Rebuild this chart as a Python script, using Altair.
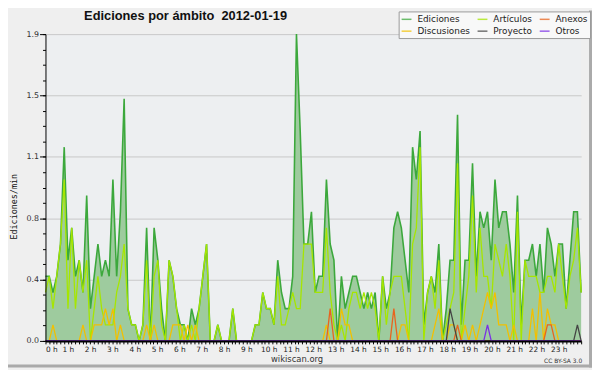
import altair as alt
import pandas as pd

# 10-minute bins, 0h .. 23h50 (edits per minute)
ediciones = [
    0.4, 0.4, 0.3, 0.4, 0.6, 1.2,
    0.5, 0.7, 0.4, 0.5, 0.3, 0.9,
    0.2, 0.4, 0.6, 0.4, 0.5, 0.4,
    1.0, 0.4, 0.8, 1.5, 0.2, 0.1,
    0.1, 0.0, 0.1, 0.7, 0.0, 0.7,
    0.5, 0.2, 0.0, 0.5, 0.4, 0.2,
    0.1, 0.1, 0.0, 0.2, 0.1, 0.2,
    0.4, 0.6, 0.0, 0.0, 0.1, 0.0,
    0.0, 0.0, 0.2, 0.0, 0.0, 0.0,
    0.0, 0.0, 0.1, 0.1, 0.3, 0.2,
    0.2, 0.1, 0.5, 0.3, 0.2, 0.2,
    0.4, 1.9, 1.3, 0.6, 0.6, 0.8,
    0.3, 0.4, 0.4, 1.0, 0.6, 0.5,
    0.0, 0.4, 0.2, 0.3, 0.4, 0.4,
    0.3, 0.2, 0.3, 0.2, 0.3, 0.0,
    0.4, 0.2, 0.3, 0.7, 0.8, 0.7,
    0.5, 0.3, 1.2, 1.0, 1.3, 0.1,
    0.3, 0.4, 0.3, 0.6, 0.0, 0.2,
    0.5, 0.5, 1.4, 0.1, 0.5, 0.5,
    1.1, 0.4, 0.8, 0.7, 0.8, 0.5,
    1.0, 0.7, 0.8, 0.8, 0.6, 0.3,
    0.9, 0.1, 0.5, 0.5, 0.6, 0.4,
    0.6, 0.3, 0.7, 0.6, 0.4, 0.6,
    0.6, 0.2, 0.5, 0.8, 0.8, 0.3,
]
articulos = [
    0.3, 0.4, 0.2, 0.4, 0.6, 1.0,
    0.2, 0.7, 0.2, 0.5, 0.3, 0.5,
    0.0, 0.2, 0.4, 0.2, 0.1, 0.1,
    0.1, 0.3, 0.4, 0.6, 0.2, 0.1,
    0.1, 0.0, 0.1, 0.5, 0.0, 0.4,
    0.5, 0.1, 0.0, 0.5, 0.4, 0.2,
    0.0, 0.1, 0.0, 0.1, 0.0, 0.2,
    0.4, 0.6, 0.0, 0.0, 0.1, 0.0,
    0.0, 0.0, 0.2, 0.0, 0.0, 0.0,
    0.0, 0.0, 0.1, 0.1, 0.3, 0.2,
    0.2, 0.1, 0.4, 0.1, 0.1, 0.2,
    0.3, 0.2, 0.2, 0.6, 0.6, 0.6,
    0.3, 0.3, 0.3, 0.7, 0.3, 0.1,
    0.0, 0.1, 0.0, 0.2, 0.3, 0.3,
    0.2, 0.3, 0.2, 0.3, 0.2, 0.0,
    0.4, 0.1, 0.3, 0.4, 0.4, 0.4,
    0.2, 0.0, 0.6, 0.7, 1.2, 0.0,
    0.3, 0.4, 0.2, 0.5, 0.0, 0.1,
    0.2, 0.3, 1.1, 0.0, 0.2, 0.4,
    0.9, 0.3, 0.7, 0.4, 0.4, 0.2,
    0.6, 0.5, 0.4, 0.6, 0.4, 0.0,
    0.8, 0.0, 0.5, 0.4, 0.4, 0.4,
    0.3, 0.3, 0.4, 0.4, 0.3, 0.6,
    0.4, 0.2, 0.4, 0.5, 0.7, 0.3,
]
discusiones = [
    0.0, 0.0, 0.1, 0.0, 0.0, 0.0,
    0.0, 0.0, 0.0, 0.0, 0.1, 0.0,
    0.0, 0.1, 0.1, 0.1, 0.2, 0.1,
    0.2, 0.0, 0.1, 0.0, 0.0, 0.0,
    0.0, 0.0, 0.0, 0.1, 0.0, 0.1,
    0.0, 0.0, 0.0, 0.0, 0.1, 0.1,
    0.1, 0.0, 0.1, 0.0, 0.1, 0.0,
    0.0, 0.0, 0.0, 0.0, 0.0, 0.0,
    0.0, 0.0, 0.0, 0.0, 0.0, 0.0,
    0.0, 0.0, 0.0, 0.0, 0.0, 0.0,
    0.0, 0.0, 0.0, 0.0, 0.0, 0.0,
    0.0, 0.0, 0.0, 0.0, 0.0, 0.0,
    0.0, 0.0, 0.0, 0.1, 0.0, 0.0,
    0.0, 0.2, 0.1, 0.1, 0.0, 0.0,
    0.0, 0.0, 0.0, 0.0, 0.0, 0.0,
    0.0, 0.0, 0.0, 0.0, 0.0, 0.1,
    0.1, 0.0, 0.0, 0.0, 0.0, 0.0,
    0.0, 0.0, 0.1, 0.2, 0.0, 0.0,
    0.1, 0.1, 0.0, 0.0, 0.1, 0.0,
    0.1, 0.0, 0.1, 0.2, 0.3, 0.2,
    0.3, 0.1, 0.1, 0.1, 0.0, 0.1,
    0.0, 0.0, 0.0, 0.0, 0.2, 0.0,
    0.3, 0.0, 0.2, 0.1, 0.1, 0.0,
    0.0, 0.0, 0.0, 0.0, 0.0, 0.0,
]
anexos = [
    0, 0, 0, 0, 0, 0,  0, 0, 0, 0, 0, 0,  0, 0, 0, 0, 0, 0,  0, 0, 0, 0, 0, 0,
    0, 0, 0, 0, 0, 0,  0, 0, 0, 0, 0, 0,  0, 0, 0, 0, 0, 0,  0, 0, 0, 0, 0, 0,
    0, 0, 0, 0, 0, 0,  0, 0, 0, 0, 0, 0,  0, 0, 0, 0, 0, 0,  0, 0, 0, 0, 0, 0,
    0, 0, 0, 0, 0.2, 0,  0, 0, 0, 0, 0, 0,  0, 0, 0, 0, 0, 0,  0, 0, 0, 0.2, 0, 0,
    0, 0, 0, 0, 0, 0,  0, 0, 0, 0, 0, 0,  0, 0, 0.1, 0, 0, 0,  0, 0, 0, 0, 0, 0,
    0, 0, 0, 0, 0, 0,  0, 0, 0, 0, 0, 0,  0, 0, 0.1, 0.1, 0, 0,  0, 0, 0, 0, 0, 0,
]
proyecto = [
    0, 0, 0, 0, 0, 0,  0, 0, 0, 0, 0, 0,  0, 0, 0, 0, 0, 0,  0, 0, 0, 0, 0, 0,
    0, 0, 0, 0, 0, 0,  0, 0, 0, 0, 0, 0,  0, 0, 0, 0, 0, 0,  0, 0, 0, 0, 0, 0,
    0, 0, 0, 0, 0, 0,  0, 0, 0, 0, 0, 0,  0, 0, 0, 0, 0, 0,  0, 0, 0, 0, 0, 0,
    0, 0, 0, 0, 0, 0,  0, 0, 0, 0, 0, 0,  0, 0, 0, 0, 0, 0,  0, 0, 0, 0, 0, 0,
    0, 0, 0, 0, 0, 0,  0, 0, 0, 0, 0, 0,  0.2, 0.1, 0, 0, 0, 0,  0, 0, 0, 0, 0, 0,
    0, 0, 0, 0, 0, 0,  0, 0, 0, 0, 0, 0,  0, 0, 0, 0, 0, 0,  0, 0, 0, 0, 0.1, 0,
]
otros = [
    0, 0, 0, 0, 0, 0,  0, 0, 0, 0, 0, 0,  0, 0, 0, 0, 0, 0,  0, 0, 0, 0, 0, 0,
    0, 0, 0, 0, 0, 0,  0, 0, 0, 0, 0, 0,  0, 0, 0, 0, 0, 0,  0, 0, 0, 0, 0, 0,
    0, 0, 0, 0, 0, 0,  0, 0, 0, 0, 0, 0,  0, 0, 0, 0, 0, 0,  0, 0, 0, 0, 0, 0,
    0, 0, 0, 0, 0, 0,  0, 0, 0, 0, 0, 0,  0, 0, 0, 0, 0, 0,  0, 0, 0, 0, 0, 0,
    0, 0, 0, 0, 0, 0,  0, 0, 0, 0, 0, 0,  0, 0, 0, 0, 0, 0,  0, 0, 0, 0, 0.1, 0,
    0, 0, 0, 0, 0, 0,  0, 0, 0, 0, 0, 0,  0, 0, 0, 0, 0, 0,  0, 0, 0, 0, 0, 0,
]

# legend fills column by column: (Ediciones, Discusiones) (Artículos, Proyecto) (Anexos, Otros)
series_names = ["Ediciones", "Discusiones", "Artículos", "Proyecto", "Anexos", "Otros"]
series_colors = ["#3ca83c", "#f2c000", "#a6e600", "#444444", "#e8641e", "#7a2ee6"]
series_values = [ediciones, discusiones, articulos, proyecto, anexos, otros]
draw_order = ["Ediciones", "Artículos", "Discusiones", "Anexos", "Proyecto", "Otros"]

y_major = [0, 0.38, 0.76, 1.14, 1.52, 1.9]
y_minor = [k * 0.095 for k in range(21)]
n = len(ediciones)
x_ticks = [k * (n - 1) / 144 for k in range(145)]

rows = []
for name, vals in zip(series_names, series_values):
    for i, v in enumerate(vals):
        rows.append({"i": i, "serie": name, "valor": v})
df = pd.DataFrame(rows)

W, H = 543, 311

x_axis = alt.Axis(
    values=x_ticks,
    labelExpr="(round(datum.value*144/%d) %% 6 == 0 && round(datum.value*144/%d) < 144) ? (round(datum.value*144/%d)/6) + ' h' : ''" % (n - 1, n - 1, n - 1),
    tickSize=3, tickColor="black", domainColor="black", domainWidth=2, grid=False,
    labelFontSize=7.5, labelPadding=2, labelOverlap=False, title=None,
    labelColor="#222", zindex=1, labelFont="DejaVu Sans",
)
x_enc = alt.X("i:Q", scale=alt.Scale(domain=[0, n - 1], nice=False, zero=False), axis=x_axis)
y_scale = alt.Scale(domain=[0, 1.9], nice=False)

base = alt.Chart(df)

area = base.transform_filter(alt.datum.serie == "Ediciones").mark_area(
    color="#9ecb9e", opacity=1
).encode(
    x=x_enc,
    y=alt.Y("valor:Q", scale=y_scale, axis=alt.Axis(
        values=y_major, format=".1f", orient="left", grid=True, gridColor="#c8c8c8",
        domain=False, tickSize=6, tickColor="black", labelFontSize=8, labelPadding=1,
        labelColor="#333", title=None, zindex=0, labelFont="DejaVu Sans")),
)

legend = alt.Legend(
    orient="none", legendX=358, legendY=-23, columns=3, title=None,
    symbolType="stroke", symbolSize=100, symbolStrokeWidth=1.5, symbolOpacity=0.75,
    labelFont="DejaVu Sans", labelFontSize=9, labelColor="#222", labelOffset=5,
    fillColor="#f8f8f8", strokeColor="#999999", padding=2, rowPadding=1,
    columnPadding=4,
)
color_enc = alt.Color("serie:N", scale=alt.Scale(domain=series_names, range=series_colors), legend=legend)

layers = [area]
for k, name in enumerate(draw_order):
    if k == 0:
        y_ax = alt.Axis(values=y_minor, orient="left", labels=False, grid=False, domain=True,
                        domainColor="black", tickSize=3, tickColor="black", title=None, zindex=1)
    else:
        y_ax = None
    layers.append(
        base.transform_filter(alt.datum.serie == name).mark_line(
            strokeWidth=1.6 if name == "Ediciones" else 1.3
        ).encode(x=x_enc, y=alt.Y("valor:Q", scale=y_scale, axis=y_ax), color=color_enc)
    )

def label(txt, x, y, **kw):
    return alt.Chart(pd.DataFrame({"t": [txt]})).mark_text(**kw).encode(
        x=alt.value(x), y=alt.value(y), text="t:N")

title = label("Ediciones por ámbito\u00a0 2012-01-19", 142, -14, font="Liberation Sans", fontSize=13,
              fontWeight="bold", align="center", baseline="alphabetic", color="#111")
ytitle = label("Ediciones/min", -32, 175, font="DejaVu Sans Mono", fontSize=8.5, angle=270,
               align="center", baseline="middle", color="#111")
site = label("wikiscan.org", 255, 332, font="DejaVu Sans", fontSize=8.5, align="center",
             baseline="alphabetic", color="#333")
lic = label("CC BY-SA 3.0", 544, 333, font="DejaVu Sans", fontSize=6, align="right",
            baseline="alphabetic", color="#333")

frame_r = alt.Chart(pd.DataFrame({"t": [0]})).mark_rule(color="#aaaaaa", strokeWidth=3).encode(
    x=alt.value(552.5), y=alt.value(-24), y2=alt.value(338))
frame_b = alt.Chart(pd.DataFrame({"t": [0]})).mark_rule(color="#aaaaaa", strokeWidth=3).encode(
    x=alt.value(-38), x2=alt.value(554), y=alt.value(336.5))

chart = alt.layer(*layers, title, ytitle, site, lic, frame_r, frame_b).resolve_axis(
    y="independent"
).properties(
    width=W, height=H,
    autosize=alt.AutoSizeParams(type="none"),
    padding={"left": 38, "top": 24, "right": 11, "bottom": 27},
    background="#efefef",
).configure_view(fill="#edeff1", stroke=None)

chart.save("out.html", embed_options={"renderer": "svg", "actions": False})
